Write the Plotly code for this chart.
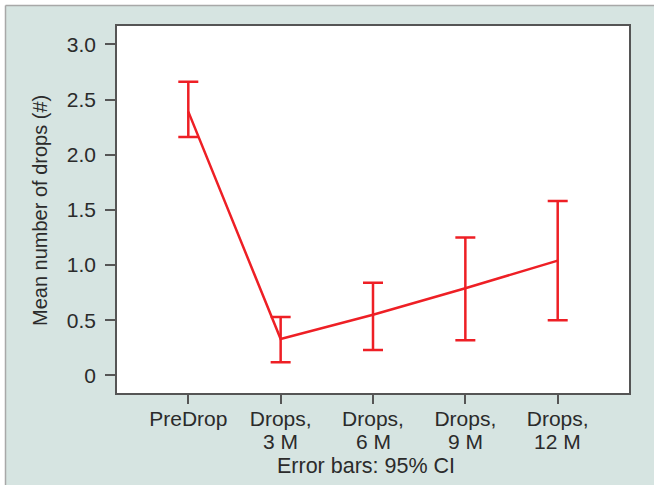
import plotly.graph_objects as go

tick_line1 = ["PreDrop", "Drops,", "Drops,", "Drops,", "Drops,"]
tick_line2 = ["", "3 M", "6 M", "9 M", "12 M"]
means = [2.39, 0.33, 0.55, 0.79, 1.04]
upper = [2.66, 0.53, 0.84, 1.25, 1.58]
lower = [2.16, 0.12, 0.23, 0.32, 0.50]
ytick_vals = [0, 0.5, 1.0, 1.5, 2.0, 2.5, 3.0]
ytick_text = ["0", "0.5", "1.0", "1.5", "2.0", "2.5", "3.0"]

xpos = list(range(len(tick_line1)))
err_plus = [u - m for u, m in zip(upper, means)]
err_minus = [m - l for m, l in zip(means, lower)]

RED = "#ee1f25"
BG = "#d6e4e1"
AX = "#555555"
FONT = "Liberation Sans, Arial, Helvetica, sans-serif"
TXT = "#2b2b2b"

W, H = 654, 485
L, R, T, B = 117, 25, 26, 92
PW, PH = W - L - R, H - T - B

fig = go.Figure()
fig.add_trace(go.Scatter(
    x=xpos, y=means, mode="lines",
    line=dict(color=RED, width=2.5),
    error_y=dict(type="data", symmetric=False, array=err_plus, arrayminus=err_minus,
                 color=RED, thickness=2.5, width=10),
    showlegend=False, hoverinfo="skip",
))

def px2x(p):
    return (p - L) / PW

def py2y(p):
    return (H - B - p) / PH

shapes = [
    dict(type="rect", xref="paper", yref="paper", x0=px2x(-5), x1=px2x(W + 5),
         y0=py2y(5.5), y1=py2y(-5), fillcolor="white", line=dict(width=0), layer="below"),
    dict(type="rect", xref="paper", yref="paper", x0=px2x(-5), x1=px2x(5.5),
         y0=py2y(H + 5), y1=py2y(-5), fillcolor="white", line=dict(width=0), layer="below"),
    dict(type="line", xref="paper", yref="paper", x0=px2x(5.5), x1=px2x(W + 5),
         y0=py2y(5.5), y1=py2y(5.5), line=dict(color="#a8a8a8", width=1.5)),
    dict(type="line", xref="paper", yref="paper", x0=px2x(5.5), x1=px2x(5.5),
         y0=py2y(5.5), y1=py2y(H + 5), line=dict(color="#a8a8a8", width=1.5)),
]

annotations = [
    dict(text="Mean number of drops (#)", xref="paper", yref="paper",
         x=px2x(40), y=py2y(211), xanchor="center", yanchor="middle",
         textangle=-90, showarrow=False, font=dict(family=FONT, size=20, color=TXT)),
    dict(text="Error bars: 95% CI", xref="paper", yref="paper",
         x=px2x(366), y=py2y(466), xanchor="center", yanchor="middle",
         showarrow=False, font=dict(family=FONT, size=21.5, color=TXT)),
]
for xp, t2 in zip(xpos, tick_line2):
    if t2:
        annotations.append(dict(text=t2, xref="x", yref="paper", x=xp, y=py2y(441),
                                xanchor="center", yanchor="middle", showarrow=False,
                                font=dict(family=FONT, size=21, color=TXT)))

fig.update_layout(
    width=W, height=H,
    margin=dict(l=L, r=R, t=T, b=B, pad=0),
    paper_bgcolor=BG, plot_bgcolor="white",
    font=dict(family=FONT, size=21, color=TXT),
    shapes=shapes, annotations=annotations,
    xaxis=dict(range=[-0.772, 4.772], tickvals=xpos, ticktext=tick_line1,
               showgrid=False, zeroline=False, showline=True, mirror=True,
               linecolor=AX, linewidth=1.5, ticks="outside", ticklen=9,
               tickcolor=AX, tickwidth=1.5, ticklabelstandoff=-3,
               tickfont=dict(size=21, color=TXT)),
    yaxis=dict(range=[-0.159, 3.166], tickvals=ytick_vals, ticktext=ytick_text,
               showgrid=False, zeroline=False, showline=True, mirror=True,
               linecolor=AX, linewidth=1.5, ticks="outside", ticklen=10,
               tickcolor=AX, tickwidth=1.5, ticklabelstandoff=5,
               tickfont=dict(size=21, color=TXT)),
)

fig.write_html("out.html", config={"displayModeBar": False},
               post_script="document.body.style.margin='0';")
